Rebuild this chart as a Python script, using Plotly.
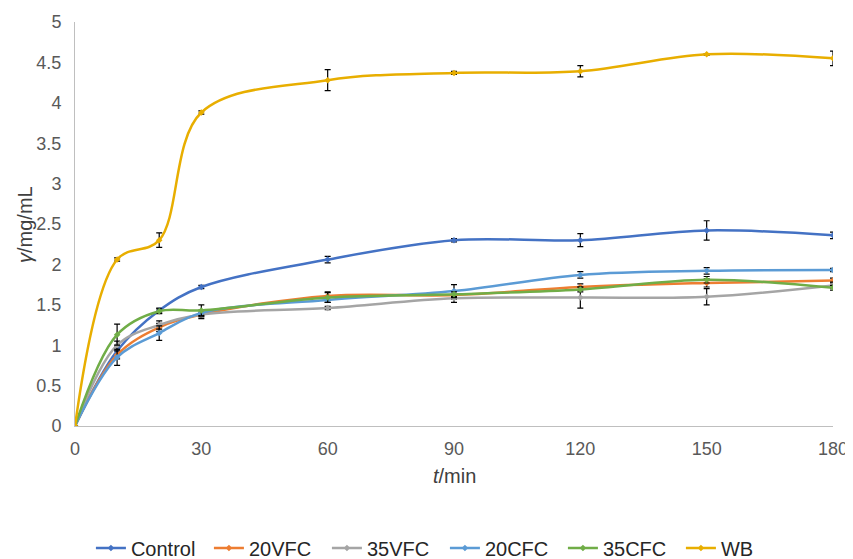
import plotly.graph_objects as go

t_min = [0, 10, 20, 30, 60, 90, 120, 150, 180]

series_names = ["Control", "20VFC", "35VFC", "20CFC", "35CFC", "WB"]

control = [0, 0.93, 1.43, 1.72, 2.06, 2.30, 2.30, 2.42, 2.36]
control_err = [0, 0.05, 0.03, 0.02, 0.04, 0.02, 0.08, 0.12, 0.04]
vfc20 = [0, 0.88, 1.22, 1.38, 1.61, 1.62, 1.72, 1.77, 1.80]
vfc20_err = [0, 0.05, 0.05, 0.05, 0.05, 0.05, 0.04, 0.05, 0.03]
vfc35 = [0, 1.00, 1.25, 1.38, 1.46, 1.58, 1.59, 1.60, 1.74]
vfc35_err = [0, 0.05, 0.05, 0.03, 0.02, 0.05, 0.13, 0.10, 0.04]
cfc20 = [0, 0.85, 1.15, 1.40, 1.56, 1.67, 1.87, 1.92, 1.93]
cfc20_err = [0, 0.10, 0.09, 0.03, 0.03, 0.08, 0.04, 0.04, 0.02]
cfc35 = [0, 1.13, 1.42, 1.43, 1.59, 1.63, 1.69, 1.81, 1.71]
cfc35_err = [0, 0.13, 0.03, 0.07, 0.06, 0.03, 0.03, 0.04, 0.03]
wb = [0, 2.06, 2.30, 3.88, 4.28, 4.37, 4.39, 4.60, 4.55]
wb_err = [0, 0.02, 0.09, 0.02, 0.13, 0.02, 0.07, 0.01, 0.09]

values = [control, vfc20, vfc35, cfc20, cfc35, wb]
errors = [control_err, vfc20_err, vfc35_err, cfc20_err, cfc35_err, wb_err]
colors = ["#4472C4", "#ED7D31", "#A5A5A5", "#5B9BD5", "#70AD47", "#E8AE00"]

x_ticks = [0, 30, 60, 90, 120, 150, 180]
y_ticks = [0, 0.5, 1, 1.5, 2, 2.5, 3, 3.5, 4, 4.5, 5]
y_tick_text = ["0", "0.5", "1", "1.5", "2", "2.5", "3", "3.5", "4", "4.5", "5"]

fig = go.Figure()
for name, vals, errs, col in zip(series_names, values, errors, colors):
    fig.add_trace(go.Scatter(
        x=t_min, y=vals, name=name, mode="lines+markers",
        line=dict(color=col, width=2.5, shape="spline", smoothing=1.0),
        marker=dict(color=col, size=5, symbol="diamond"),
        error_y=dict(type="data", array=errs, visible=True, color="black",
                     thickness=1.2, width=3),
    ))

# the page body has an 8px default margin, so the figure is sized/offset for it
font_family = "Liberation Sans, Arial, sans-serif"
fig.update_layout(
    width=845, height=551,
    margin=dict(l=67, r=20, t=14, b=133, autoexpand=False),
    paper_bgcolor="white", plot_bgcolor="white",
    font=dict(family=font_family, size=18, color="#595959"),
    showlegend=True,
    legend=dict(orientation="h", x=0.021, xanchor="left", y=-0.302, yanchor="middle",
                font=dict(size=20, color="#262626"), itemwidth=30, tracegroupgap=0,
                entrywidth=73),
    xaxis=dict(range=[0, 180], tickvals=x_ticks, ticktext=[str(v) for v in x_ticks],
               showgrid=False, zeroline=False, showline=True, linecolor="#BFBFBF",
               linewidth=1, ticks="", automargin=False, ticklabelstandoff=6,
               tickfont=dict(size=18, color="#595959")),
    yaxis=dict(range=[0, 5], tickvals=y_ticks, ticktext=y_tick_text,
               showgrid=False, zeroline=False, showline=True, linecolor="#BFBFBF",
               linewidth=1, ticks="", automargin=False, ticklabelstandoff=9,
               tickfont=dict(size=18, color="#595959")),
    annotations=[
        dict(text="<i>t</i>/min", xref="paper", yref="paper", x=0.5, y=-0.124,
             xanchor="center", yanchor="middle", showarrow=False,
             font=dict(size=20, color="#404040")),
        dict(text="<i>γ</i>/mg/mL", xref="paper", yref="paper", x=-0.066, y=0.5,
             xanchor="center", yanchor="middle", showarrow=False, textangle=-90,
             font=dict(size=20, color="#404040")),
    ],
)

fig.write_html("out.html")
